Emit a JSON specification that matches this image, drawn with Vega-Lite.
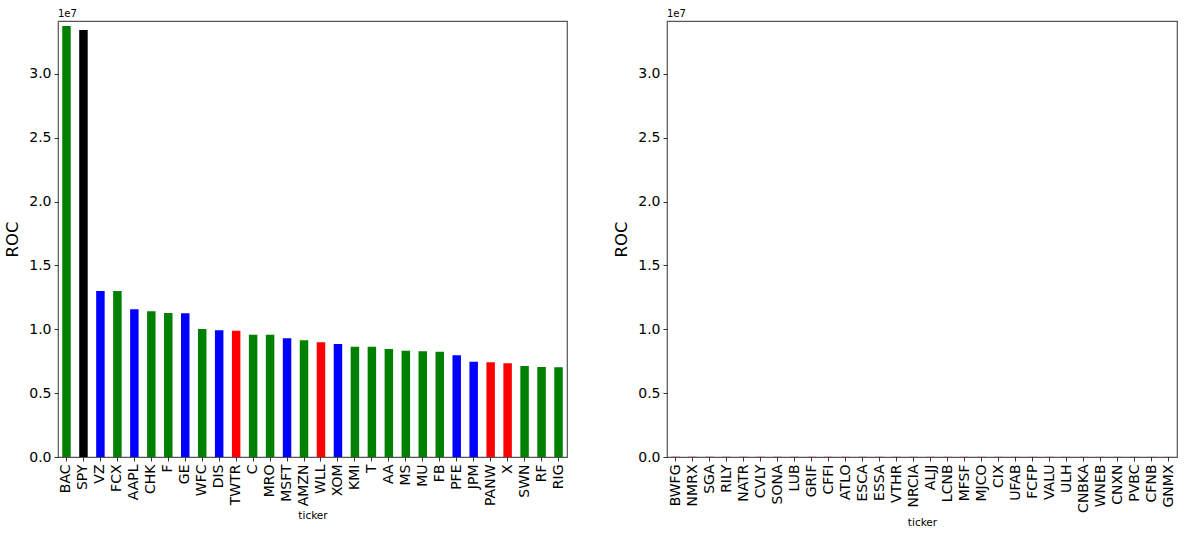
{
  "$schema": "https://vega.github.io/schema/vega-lite/v6.json",
  "padding": {"left": 4, "top": 8, "right": 0, "bottom": 0},
  "bounds": "flush",
  "spacing": 100,
  "background": "white",
  "datasets": {
    "left": [
      {"ticker": "BAC", "ROC": 33760000, "grp": "g"},
      {"ticker": "SPY", "ROC": 33450000, "grp": "k"},
      {"ticker": "VZ", "ROC": 13000000, "grp": "b"},
      {"ticker": "FCX", "ROC": 13000000, "grp": "g"},
      {"ticker": "AAPL", "ROC": 11570000, "grp": "b"},
      {"ticker": "CHK", "ROC": 11410000, "grp": "g"},
      {"ticker": "F", "ROC": 11280000, "grp": "g"},
      {"ticker": "GE", "ROC": 11250000, "grp": "b"},
      {"ticker": "WFC", "ROC": 10030000, "grp": "g"},
      {"ticker": "DIS", "ROC": 9920000, "grp": "b"},
      {"ticker": "TWTR", "ROC": 9890000, "grp": "r"},
      {"ticker": "C", "ROC": 9580000, "grp": "g"},
      {"ticker": "MRO", "ROC": 9580000, "grp": "g"},
      {"ticker": "MSFT", "ROC": 9300000, "grp": "b"},
      {"ticker": "AMZN", "ROC": 9140000, "grp": "g"},
      {"ticker": "WLL", "ROC": 8980000, "grp": "r"},
      {"ticker": "XOM", "ROC": 8850000, "grp": "b"},
      {"ticker": "KMI", "ROC": 8640000, "grp": "g"},
      {"ticker": "T", "ROC": 8640000, "grp": "g"},
      {"ticker": "AA", "ROC": 8460000, "grp": "g"},
      {"ticker": "MS", "ROC": 8330000, "grp": "g"},
      {"ticker": "MU", "ROC": 8280000, "grp": "g"},
      {"ticker": "FB", "ROC": 8250000, "grp": "g"},
      {"ticker": "PFE", "ROC": 7970000, "grp": "b"},
      {"ticker": "JPM", "ROC": 7470000, "grp": "b"},
      {"ticker": "PANW", "ROC": 7420000, "grp": "r"},
      {"ticker": "X", "ROC": 7340000, "grp": "r"},
      {"ticker": "SWN", "ROC": 7130000, "grp": "g"},
      {"ticker": "RF", "ROC": 7050000, "grp": "g"},
      {"ticker": "RIG", "ROC": 7030000, "grp": "g"}
    ],
    "right": [
      {"ticker": "BWFG", "ROC": 20000, "grp": "r"},
      {"ticker": "NMRX", "ROC": 19000, "grp": "r"},
      {"ticker": "SGA", "ROC": 18000, "grp": "r"},
      {"ticker": "RILY", "ROC": 18000, "grp": "r"},
      {"ticker": "NATR", "ROC": 17000, "grp": "r"},
      {"ticker": "CVLY", "ROC": 17000, "grp": "r"},
      {"ticker": "SONA", "ROC": 16000, "grp": "r"},
      {"ticker": "LUB", "ROC": 16000, "grp": "r"},
      {"ticker": "GRIF", "ROC": 15000, "grp": "r"},
      {"ticker": "CFFI", "ROC": 15000, "grp": "r"},
      {"ticker": "ATLO", "ROC": 15000, "grp": "r"},
      {"ticker": "ESCA", "ROC": 14000, "grp": "r"},
      {"ticker": "ESSA", "ROC": 14000, "grp": "r"},
      {"ticker": "VTHR", "ROC": 14000, "grp": "r"},
      {"ticker": "NRCIA", "ROC": 13000, "grp": "r"},
      {"ticker": "ALJJ", "ROC": 13000, "grp": "r"},
      {"ticker": "LCNB", "ROC": 13000, "grp": "r"},
      {"ticker": "MFSF", "ROC": 12000, "grp": "r"},
      {"ticker": "MJCO", "ROC": 12000, "grp": "r"},
      {"ticker": "CIX", "ROC": 12000, "grp": "r"},
      {"ticker": "UFAB", "ROC": 11000, "grp": "r"},
      {"ticker": "FCFP", "ROC": 11000, "grp": "r"},
      {"ticker": "VALU", "ROC": 11000, "grp": "r"},
      {"ticker": "ULH", "ROC": 10000, "grp": "r"},
      {"ticker": "CNBKA", "ROC": 10000, "grp": "r"},
      {"ticker": "WNEB", "ROC": 10000, "grp": "r"},
      {"ticker": "CNXN", "ROC": 9000, "grp": "r"},
      {"ticker": "PVBC", "ROC": 9000, "grp": "r"},
      {"ticker": "CFNB", "ROC": 9000, "grp": "r"},
      {"ticker": "GNMX", "ROC": 8000, "grp": "r"}
    ]
  },
  "config": {
    "font": "DejaVu Sans",
    "view": {"stroke": "#555555", "strokeWidth": 1.2},
    "axis": {
      "domain": false,
      "grid": false,
      "tickColor": "#000000",
      "tickSize": 4,
      "tickWidth": 0.8,
      "labelFont": "DejaVu Sans",
      "labelColor": "#000000",
      "labelFontSize": 14,
      "titleFont": "DejaVu Sans",
      "titleColor": "#000000",
      "titleFontWeight": "normal"
    },
    "title": {"font": "DejaVu Sans", "fontSize": 10, "fontWeight": "normal", "anchor": "start", "frame": "group", "color": "#000000", "offset": 2}
  },
  "hconcat": [
    {
      "width": 509,
      "height": 436,
      "title": {"text": "1e7", "frame": "group", "anchor": "start"},
      "data": {"name": "left"},
      "mark": {"type": "bar", "orient": "vertical"},
      "encoding": {
        "x": {
          "field": "ticker", "type": "nominal", "sort": null,
          "scale": {"paddingInner": 0.5, "paddingOuter": 0.25},
          "axis": {"labelAngle": -90, "labelFontSize": 14, "title": "ticker", "titleFontSize": 10.5, "titlePadding": 5, "labelPadding": 3}
        },
        "y": {
          "field": "ROC", "type": "quantitative",
          "scale": {"domain": [0, 34150000], "nice": false},
          "axis": {"values": [0, 5000000, 10000000, 15000000, 20000000, 25000000, 30000000], "labelExpr": "format(datum.value / 10000000, '.1f')", "title": "ROC", "titleFontSize": 16.5, "titlePadding": 8, "labelPadding": 3}
        },
        "color": {
          "field": "grp", "type": "nominal", "legend": null,
          "scale": {"domain": ["g", "k", "b", "r"], "range": ["#008000", "#000000", "#0000ff", "#ff0000"]}
        }
      }
    },
    {
      "width": 510,
      "height": 436,
      "title": {"text": "1e7", "frame": "group", "anchor": "start"},
      "data": {"name": "right"},
      "mark": {"type": "bar", "orient": "vertical"},
      "encoding": {
        "x": {
          "field": "ticker", "type": "nominal", "sort": null,
          "scale": {"paddingInner": 0.5, "paddingOuter": 0.25},
          "axis": {"labelAngle": -90, "labelFontSize": 14, "title": "ticker", "titleFontSize": 10.5, "titlePadding": 5, "labelPadding": 3}
        },
        "y": {
          "field": "ROC", "type": "quantitative",
          "scale": {"domain": [0, 34150000], "nice": false},
          "axis": {"values": [0, 5000000, 10000000, 15000000, 20000000, 25000000, 30000000], "labelExpr": "format(datum.value / 10000000, '.1f')", "title": "ROC", "titleFontSize": 16.5, "titlePadding": 8, "labelPadding": 3}
        },
        "color": {
          "field": "grp", "type": "nominal", "legend": null,
          "scale": {"domain": ["g", "k", "b", "r"], "range": ["#008000", "#000000", "#0000ff", "#ff0000"]}
        }
      }
    }
  ]
}
